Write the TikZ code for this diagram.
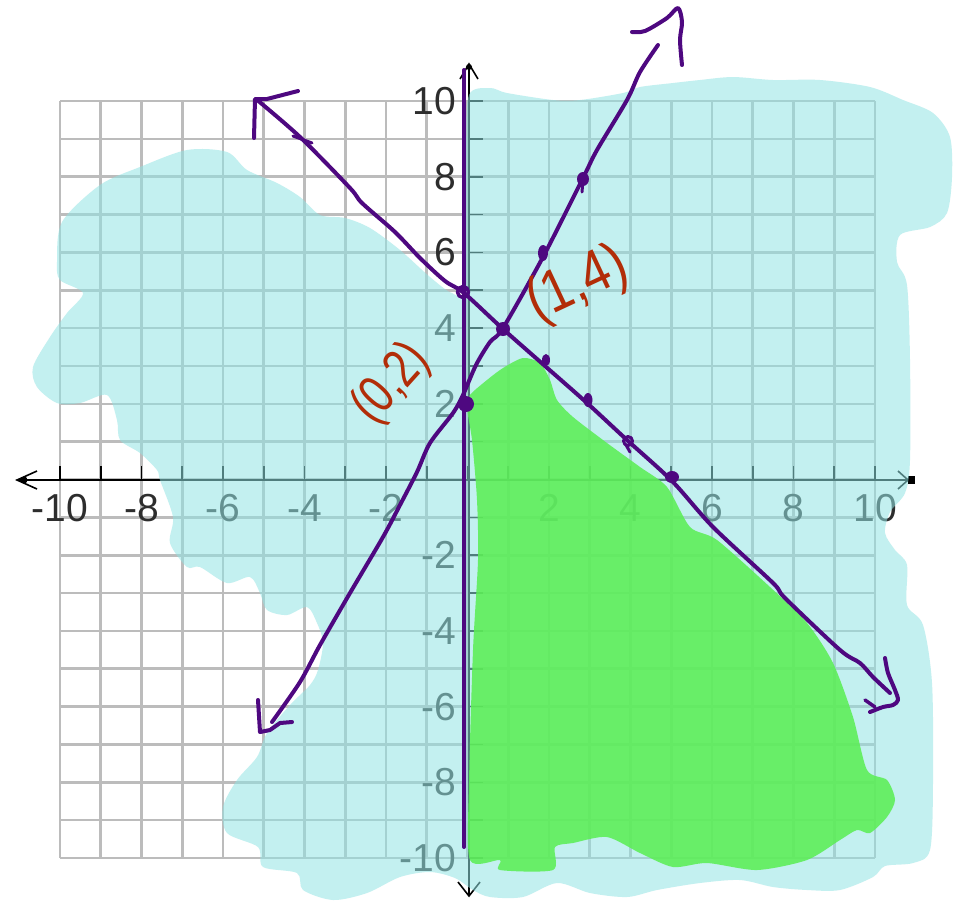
\documentclass[tikz,border=0pt]{standalone}
\usepackage{fontspec}
\setmainfont{Liberation Sans}
\usepackage{graphicx}
\definecolor{gridc}{RGB}{188,188,188}
\definecolor{cyanhl}{RGB}{146,228,228}
\definecolor{greenhl}{RGB}{92,238,86}
\definecolor{penpurple}{RGB}{78,8,128}
\definecolor{penred}{RGB}{178,45,8}
\definecolor{lblc}{RGB}{45,45,45}
\begin{document}
\begin{tikzpicture}[x=1pt,y=-1pt,
  gridline/.style={draw=gridc,line width=2.6pt},
  axisline/.style={draw=black,line width=2.2pt},
  tickmark/.style={draw=black,line width=1.6pt},
  axlbl/.style={text=lblc,font=\fontsize{39}{39}\selectfont,inner sep=0pt},
  hilite/.style={fill=cyanhl,fill opacity=0.55},
  greenfill/.style={fill=greenhl,fill opacity=0.88},
  pen/.style={draw=penpurple,line width=4pt,line cap=round,line join=round},
  pendot/.style={fill=penpurple},
  hand/.style={text=penred,inner sep=0pt}
]
\useasboundingbox (0,0) rectangle (966,903);
\fill[white] (0,0) rectangle (966,903);

% grid
\foreach \i in {-10,...,10}{
  \draw[gridline] ({467.5+40.75*\i},101) -- ({467.5+40.75*\i},858);
  \draw[gridline] (60,{479.5-37.85*\i}) -- (875,{479.5-37.85*\i});
}

% axes
\draw[axisline] (17,480) -- (910,480);
\draw[axisline] (469,65) -- (469,895);
\foreach \i in {-10,...,10}{
  \draw[tickmark] ({467.5+40.75*\i},466) -- ({467.5+40.75*\i},480);
  \draw[tickmark] (469,{479.5-37.85*\i}) -- (483,{479.5-37.85*\i});
}
\draw[tickmark] (37,471) -- (17,480) -- (37,489);
\fill (24,480) circle (3.5);
\draw[tickmark] (898,471) -- (908,480) -- (898,489);
\fill (908,476) rectangle (915,484);
\draw[tickmark] (460,79) -- (469,64) -- (478,79);
\fill (469,67) circle (3);
\draw[tickmark] (458,882) -- (469,896) -- (480,882);

% axis labels
\foreach \i in {-10,-8,-6,-4,-2,2,4,6,8,10}{
  \node[axlbl] (xl\i) at ({467.5+40.75*\i},508) {\i};
  \node[axlbl,anchor=east] (yl\i) at (456,{479.5-37.85*\i}) {\i};
}

% cyan highlight
\fill[hilite] plot[smooth cycle, tension=0.5] coordinates {
(57,262) (62,222) (100,185) (140,167) (187,150) (227,152) (247,170) (277,183)
(300,197) (320,215) (345,218) (370,228) (400,250) (430,277) (452,293) (464,285)
(466,150) (469,95) (490,88) (507,93) (553,100) (580,100) (623,93) (640,87)
(673,83) (700,80) (733,77) (773,80) (820,80) (870,87) (903,100) (933,113)
(950,137) (952,177) (947,213) (930,227) (900,235) (897,262) (907,285) (910,360)
(910,460) (905,493) (890,512) (885,533) (895,550) (907,565) (907,605) (923,625)
(932,683) (933,783) (930,850) (913,863) (885,866) (873,877) (840,890) (807,890)
(773,887) (740,880) (700,883) (657,890) (627,897) (590,893) (557,883) (523,897)
(490,897) (473,890) (455,878) (430,872) (400,877) (367,893) (333,900) (303,890)
(297,873) (263,867) (258,847) (227,833) (223,807) (237,780) (257,757) (267,733)
(290,705) (310,685) (318,670) (323,643) (317,623) (307,607) (287,615) (267,610)
(260,593) (250,577) (227,583) (200,567) (187,567) (170,543) (173,517) (160,480)
(157,470) (140,453) (120,440) (117,420) (107,395) (80,403) (57,403) (37,387)
(33,367) (50,337) (67,313) (83,293) (60,280)};

% green solution region
\fill[greenfill] plot[smooth cycle, tension=0.45] coordinates {
(467,408) (470,395) (487,380) (503,368) (523,358) (540,363) (550,380) (557,400)
(573,417) (607,443) (640,467) (667,487) (690,527) (717,540) (770,587) (807,623)
(833,663) (853,717) (867,770) (887,780) (895,800) (887,817) (870,833) (857,830)
(840,840) (807,860) (757,870) (707,863) (673,867) (640,853) (607,837) (573,843)
(555,847) (553,870) (500,870) (500,860) (470,860) (469,783) (473,650) (478,560)
(477,500) (472,440)};

% vertical line x = 0
\draw[pen] (464,70) -- (464,847);

% line x + y = 5
\draw[pen] plot[smooth, tension=0.5] coordinates {
(256,99) (300,137) (350,188) (362,203) (395,232) (420,258) (445,281) (464,293)
(503,329) (545,366) (587,403) (627,440) (672,481) (713,527) (773,583) (785,598)
(840,650) (860,663) (873,677) (890,693)};
\draw[pen] (254,138) -- (255,99) -- (267,99) -- (298,91);
\draw[pen,line width=3pt] (293,136) -- (312,143);
\draw[pen] plot[smooth, tension=0.5] coordinates {
(885,658) (888,673) (895,690) (898,700) (893,705) (883,707) (870,712)};
\draw[pen,line width=3.5pt] (865,700) -- (875,707);

% line y = 2x + 2
\draw[pen] plot[smooth, tension=0.5] coordinates {
(272,722) (300,682) (320,645) (350,593) (383,537) (400,505) (417,472) (430,443)
(453,413) (463,395) (476,365) (490,342) (503,328) (543,257) (583,178) (597,150)
(627,100) (640,72) (658,45)};
\draw[pen] plot[smooth, tension=0.5] coordinates {
(632,32) (645,31) (667,18) (678,8) (682,22) (680,40) (682,65)};
\draw[pen] (258,700) -- (260,732) -- (270,730) -- (280,723) -- (292,722);

% plotted points
\draw[pen,line width=3.5pt] (463,292) circle (5.5);
\fill[pendot] (466,404) circle (8);
\fill[pendot] (503,329) circle (7);
\fill[pendot] (543,253) ellipse (5 and 8);
\fill[pendot] (583,179) ellipse (6 and 7);
\draw[pen,line width=3pt] (583,180) -- (582,192);
\fill[pendot] (546,360) ellipse (4 and 6);
\fill[pendot] (588,400) ellipse (4.5 and 7);
\draw[pen,line width=3pt] (628,441) circle (4.5);
\draw[pen,line width=3pt] (626,445) -- (630,452);
\fill[pendot] (672,477) ellipse (7 and 6);

% handwritten labels
\node[hand,rotate=48,font=\fontsize{54}{54}\selectfont] (ptA) at (392,384) {\scalebox{0.78}[1]{(0,2)}};
\node[hand,rotate=25,font=\fontsize{60}{60}\selectfont] (ptB) at (578,285) {\scalebox{0.85}[1]{(1,4)}};
\end{tikzpicture}
\end{document}
